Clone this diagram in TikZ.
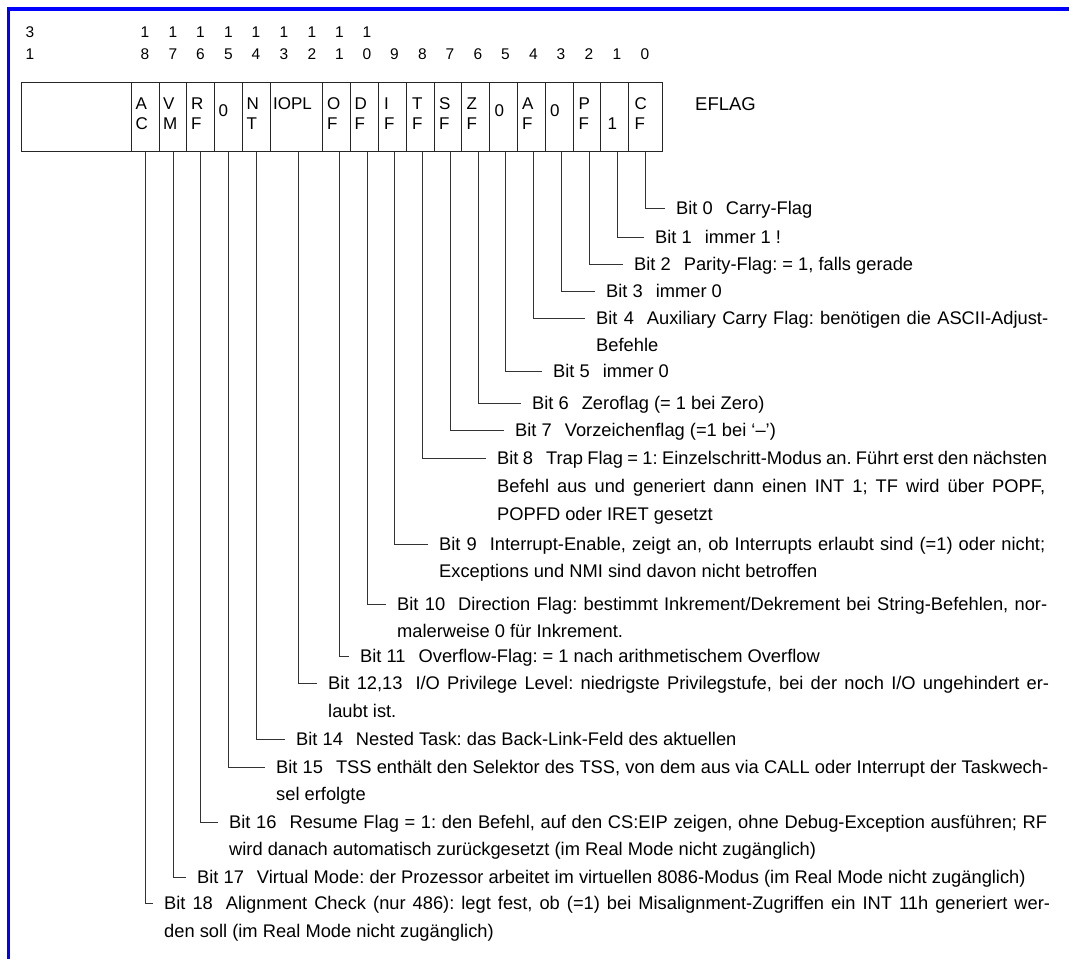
\documentclass[tikz,border=0pt]{standalone}
\usepackage{fontspec}
\setmainfont{Liberation Sans}
\frenchspacing
\newcommand{\bitlbl}[1]{Bit #1\hspace{13pt}}
\newcommand{\jl}[2]{\makebox[#1pt][s]{#2}}
\begin{document}
\begin{tikzpicture}[x=1pt,y=-1pt,
  cell/.style={draw=black!85, line width=1.3pt, minimum height=69pt, inner sep=0pt, anchor=north west},
  hd/.style={font=\fontsize{15.5}{18}\selectfont, anchor=base, inner sep=0pt},
  ct/.style={font=\fontsize{17}{20}\selectfont, anchor=base west, inner sep=0pt},
  lbl/.style={font=\fontsize{18.3}{22}\selectfont, anchor=west, inner sep=0pt, text height=13pt, text depth=0pt},
  conn/.style={draw=black!80, line width=1pt}]
\useasboundingbox (0,0) rectangle (1069,959);
\fill[white] (0,0) rectangle (1069,959);
% blue frame
\draw[blue, line width=3.5pt] (8.3,959) -- (8.3,9.2) -- (1069,9.2);

% register cells
\node[cell, minimum width=110.3pt] (cRes) at (20.7,82) {};
\node[cell, minimum width=27.9pt] (cAC) at (131,82) {};
\node[cell, minimum width=27.1pt] (cVM) at (158.9,82) {};
\node[cell, minimum width=27.5pt] (cRF) at (186,82) {};
\node[cell, minimum width=28pt] (cZ15) at (213.5,82) {};
\node[cell, minimum width=28pt] (cNT) at (241.5,82) {};
\node[cell, minimum width=52.5pt] (cIOPL) at (269.5,82) {};
\node[cell, minimum width=27.5pt] (cOF) at (322,82) {};
\node[cell, minimum width=28pt] (cDF) at (349.5,82) {};
\node[cell, minimum width=28.5pt] (cIF) at (377.5,82) {};
\node[cell, minimum width=27.5pt] (cTF) at (406,82) {};
\node[cell, minimum width=27.5pt] (cSF) at (433.5,82) {};
\node[cell, minimum width=28pt] (cZF) at (461,82) {};
\node[cell, minimum width=27.5pt] (cZ5) at (489,82) {};
\node[cell, minimum width=28pt] (cAF) at (516.5,82) {};
\node[cell, minimum width=28pt] (cZ3) at (544.5,82) {};
\node[cell, minimum width=27.5pt] (cPF) at (572.5,82) {};
\node[cell, minimum width=27.5pt] (cOne) at (600,82) {};
\node[cell, minimum width=34.5pt] (cCF) at (627.5,82) {};

% cell texts
\foreach \n/\x/\a/\b in {AC/135.5/A/C, VM/163/V/M, RF/191/R/F, NT/246.5/N/T, OF/327/O/F, DF/354.5/D/F,
  IF/384/I/F, TF/412/T/F, SF/439/S/F, ZF/466.5/Z/F, AF/522/A/F, PF/578.5/P/F, CF/634.5/C/F} {
  \node[ct] (t1\n) at (\x,109.5) {\a};
  \node[ct] (t2\n) at (\x,129.5) {\b};
}
\node[ct] (tZ15) at (218.5,116.5) {0};
\node[ct] (tZ5) at (494.5,116.5) {0};
\node[ct] (tZ3) at (550,116.5) {0};
\node[ct] (tIOPL) at (273,109.5) {IOPL};
\node[ct] (tOne) at (607.5,129.5) {1};
\node[font=\fontsize{18.5}{21}\selectfont, anchor=base west, inner sep=0pt] (eflag) at (695,110) {EFLAG};

% header bit numbers
\node[hd] (h31a) at (30,37.3) {3};
\node[hd] (h31b) at (30,59.3) {1};
\foreach \b/\x/\d in {18/145/8, 17/173/7, 16/200.5/6, 15/228.5/5, 14/256/4, 13/284/3, 12/312/2, 11/339.5/1, 10/367/0,
  9/394.5/9, 8/422.5/8, 7/450/7, 6/478/6, 5/505.5/5, 4/533.5/4, 3/561/3, 2/589/2, 1/617/1, 0/645/0} {
  \node[hd] (n\b) at (\x,59.3) {\d};
}
\foreach \b/\x in {18/145, 17/173, 16/200.5, 15/228.5, 14/256, 13/284, 12/312, 11/339.5, 10/367} {
  \node[hd] (u\b) at (\x,37.3) {1};
}

% descriptions
\node[lbl] (l0) at (676,208) {\bitlbl{0}Carry-Flag};
\node[lbl] (l1) at (655,237) {\bitlbl{1}immer 1 !};
\node[lbl] (l2) at (634,264) {\bitlbl{2}Parity-Flag: = 1, falls gerade};
\node[lbl] (l3) at (606,291) {\bitlbl{3}immer 0};
\node[lbl] (l4) at (596,318) {\jl{452}{\bitlbl{4}Auxiliary Carry Flag: benötigen die ASCII-Adjust-}};
\node[lbl] (l4b) at (596,345) {Befehle};
\node[lbl] (l5) at (553,371) {\bitlbl{5}immer 0};
\node[lbl] (l6) at (532,403) {\bitlbl{6}Zeroflag (= 1 bei Zero)};
\node[lbl] (l7) at (515,430) {\bitlbl{7}Vorzeichenflag (=1 bei `--')};
\node[lbl] (l8) at (497,458) {\jl{550}{\bitlbl{8}Trap Flag = 1: Einzelschritt-Modus an. Führt erst den nächsten}};
\node[lbl] (l8b) at (497,486) {\jl{548}{Befehl aus und generiert dann einen INT 1; TF wird über POPF,}};
\node[lbl] (l8c) at (497,514) {POPFD oder IRET gesetzt};
\node[lbl] (l9) at (439,544) {\jl{606}{\bitlbl{9}Interrupt-Enable, zeigt an, ob Interrupts erlaubt sind (=1) oder nicht;}};
\node[lbl] (l9b) at (439,571) {Exceptions und NMI sind davon nicht betroffen};
\node[lbl] (l10) at (397,604) {\jl{650}{\bitlbl{10}Direction Flag: bestimmt Inkrement/Dekrement bei String-Befehlen, nor-}};
\node[lbl] (l10b) at (397,631) {malerweise 0 für Inkrement.};
\node[lbl] (l11) at (360,656) {\bitlbl{11}Overflow-Flag: = 1 nach arithmetischem Overflow};
\node[lbl] (l12) at (328,683) {\jl{721}{\bitlbl{12,13}I/O Privilege Level: niedrigste Privilegstufe, bei der noch I/O ungehindert er-}};
\node[lbl] (l12b) at (328,711) {laubt ist.};
\node[lbl] (l14) at (296,739) {\bitlbl{14}Nested Task: das Back-Link-Feld des aktuellen};
\node[lbl] (l15) at (276,767) {\jl{772}{\bitlbl{15}TSS enthält den Selektor des TSS, von dem aus via CALL oder Interrupt der Taskwech-}};
\node[lbl] (l15b) at (276,794) {sel erfolgte};
\node[lbl] (l16) at (229,822) {\jl{818}{\bitlbl{16}Resume Flag = 1: den Befehl, auf den CS:EIP zeigen, ohne Debug-Exception ausführen; RF}};
\node[lbl] (l16b) at (229,849) {wird danach automatisch zurückgesetzt (im Real Mode nicht zugänglich)};
\node[lbl] (l17) at (197,877) {\bitlbl{17}Virtual Mode: der Prozessor arbeitet im virtuellen 8086-Modus (im Real Mode nicht zugänglich)};
\node[lbl] (l18) at (164,903) {\jl{886}{\bitlbl{18}Alignment Check (nur 486): legt fest, ob (=1) bei Misalignment-Zugriffen ein INT 11h generiert wer-}};
\node[lbl] (l18b) at (164,931) {den soll (im Real Mode nicht zugänglich)};

% connectors
\foreach \c/\n/\l in {CF/n0/l0, One/n1/l1, PF/n2/l2, Z3/n3/l3, AF/n4/l4, Z5/n5/l5, ZF/n6/l6, SF/n7/l7,
  TF/n8/l8, IF/n9/l9, DF/n10/l10, OF/n11/l11, NT/n14/l14, Z15/n15/l15, RF/n16/l16, VM/n17/l17, AC/n18/l18} {
  \draw[conn] (c\c.south -| \n) |- ([xshift=-11pt]\l.west);
}
\draw[conn] ([xshift=2.5pt]cIOPL.south) |- ([xshift=-11pt]l12.west);
\end{tikzpicture}
\end{document}
